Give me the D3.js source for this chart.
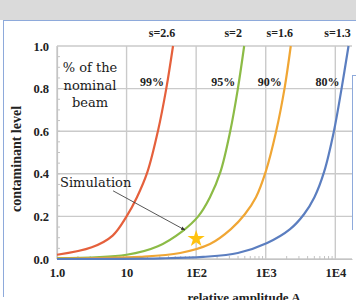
<!DOCTYPE html>
<html>
<head>
<meta charset="utf-8">
<script src="https://cdn.jsdelivr.net/npm/d3@7"></script>
<style>
	body { margin: 0; background: #fff; }
	svg { display: block; }
</style>
</head>
<body>
<div id="chart"><svg width="356" height="300"></svg></div>
<script>
// tick values and labels
var xTicks = [1, 10, 100, 1000, 10000];
var xTickLabels = ['1.0', '10', '1E2', '1E3', '1E4'];
var yTicks = [0, 0.2, 0.4, 0.6, 0.8, 1.0];
var yTickLabels = ['0.0', '0.2', '0.4', '0.6', '0.8', '1.0'];

// curves (A = relative amplitude, level = contaminant level)
var seriesNames = ['s=2.6', 's=2', 's=1.6', 's=1.3'];
var percentLabels = ['99%', '95%', '90%', '80%'];
var redA = [1, 3.16, 6.31, 10, 14.1, 20, 28.2, 37.2, 46.5];
var redLevel = [0.02, 0.055, 0.11, 0.2, 0.29, 0.41, 0.6, 0.8, 1.0];
var greenA = [1, 10, 28.2, 63.1, 107, 158, 224, 309, 398, 490];
var greenLevel = [0.004, 0.02, 0.06, 0.13, 0.2, 0.29, 0.41, 0.6, 0.8, 1.0];
var orangeA = [1, 15.8, 58.9, 158, 316, 501, 724, 1000, 1413, 1862, 2291];
var orangeLevel = [0.002, 0.01, 0.028, 0.07, 0.14, 0.21, 0.29, 0.41, 0.6, 0.8, 1.0];
var blueA = [1, 31.6, 126, 398, 1047, 2239, 3548, 5012, 6918, 9550, 12300, 15490];
var blueLevel = [0, 0.003, 0.01, 0.028, 0.075, 0.14, 0.21, 0.29, 0.41, 0.6, 0.8, 1.0];
var simStar = [100, 0.1];
var simArrow = [[6.4, 0.32], [69, 0.136]];

var colors = ['#e5603c', '#8cbb46', '#f0a634', '#5b7ec0'];

var svg = d3.select('#chart > svg');

// page frame around the chart
svg.append('rect').attr('x', 0).attr('y', 0).attr('width', 356).attr('height', 20).attr('fill', '#dadada');
svg.append('line').attr('x1', 3).attr('x2', 356).attr('y1', 20.5).attr('y2', 20.5)
	.attr('stroke', '#8eaadb').attr('stroke-width', 1);
svg.append('line').attr('x1', 3.5).attr('x2', 3.5).attr('y1', 20).attr('y2', 297)
	.attr('stroke', '#8eaadb').attr('stroke-width', 1);
svg.append('line').attr('x1', 352.5).attr('x2', 352.5).attr('y1', 75).attr('y2', 230)
	.attr('stroke', '#8eaadb').attr('stroke-width', 1);
svg.append('line').attr('x1', 352).attr('x2', 356).attr('y1', 75.5).attr('y2', 75.5)
	.attr('stroke', '#8eaadb').attr('stroke-width', 1);

var xScale = d3.scaleLog()
	.domain([1, Math.pow(10, 4.24)])
	.range([57, 352]);
var yScale = d3.scaleLinear()
	.domain([0, 1])
	.range([259, 46]);

// grids
var grids = svg.append('g').attr('class', 'grids');
grids.selectAll('.y.grid')
	.data(yTicks)
	.enter().append('line')
	.attr('class', 'y grid')
	.attr('x1', xScale(1))
	.attr('x2', 352)
	.attr('y1', function(d) { return yScale(d) })
	.attr('y2', function(d) { return yScale(d) })
	.attr('stroke', '#cacaca')
	.attr('stroke-width', 1.4);
grids.selectAll('.x.grid')
	.data(xTicks)
	.enter().append('line')
	.attr('class', 'x grid')
	.attr('x1', function(d) { return xScale(d) })
	.attr('x2', function(d) { return xScale(d) })
	.attr('y1', yScale(1))
	.attr('y2', yScale(0))
	.attr('stroke', '#cacaca')
	.attr('stroke-width', 1.4);

// minor ticks
var yMinor = d3.range(0.05, 1, 0.05);
grids.selectAll('.y.minor')
	.data(yMinor)
	.enter().append('line')
	.attr('x1', xScale(1))
	.attr('x2', xScale(1) + 3)
	.attr('y1', function(d) { return yScale(d) })
	.attr('y2', function(d) { return yScale(d) })
	.attr('stroke', '#c4c4c4');
var xMinor = [];
xTicks.forEach(function(t) {
	for (var k = 2; k < 10; k++) if (t * k < xScale.domain()[1]) xMinor.push(t * k);
});
grids.selectAll('.x.minor')
	.data(xMinor)
	.enter().append('line')
	.attr('x1', function(d) { return xScale(d) })
	.attr('x2', function(d) { return xScale(d) })
	.attr('y1', yScale(0))
	.attr('y2', yScale(0) - 3)
	.attr('stroke', '#c4c4c4');

// axes
var yAxis = svg.append('g')
	.attr('transform', 'translate(' + xScale(1) + ',0)')
	.call(d3.axisLeft(yScale).tickValues(yTicks).tickSize(0).tickPadding(8)
		.tickFormat(function(d, i) { return yTickLabels[i] }));
var xAxis = svg.append('g')
	.attr('transform', 'translate(0,' + yScale(0) + ')')
	.call(d3.axisBottom(xScale).tickValues(xTicks).tickSize(0).tickPadding(9)
		.tickFormat(function(d, i) { return xTickLabels[i] }));
[xAxis, yAxis].forEach(function(ax) {
	ax.select('.domain').attr('stroke', '#c4c4c4').attr('stroke-width', 1.2);
	ax.selectAll('text')
		.attr('fill', '#222')
		.style('font-family', '"Liberation Serif", serif')
		.style('font-weight', 'bold')
		.style('font-size', '12.5px');
});

// curves
var series = [
	{ a: redA, v: redLevel },
	{ a: greenA, v: greenLevel },
	{ a: orangeA, v: orangeLevel },
	{ a: blueA, v: blueLevel }
];
var line = d3.line()
	.x(function(d) { return xScale(d[0]) })
	.y(function(d) { return yScale(d[1]) })
	.curve(d3.curveCatmullRom.alpha(0.5));
var plot = svg.append('g').attr('class', 'plot');
plot.selectAll('path')
	.data(series)
	.enter().append('path')
	.attr('d', function(d) { return line(d3.zip(d.a, d.v)) })
	.attr('fill', 'none')
	.attr('stroke', function(d, i) { return colors[i] })
	.attr('stroke-width', 2.2);

// curve labels
var labelFont = '"Liberation Serif", serif';
plot.selectAll('.slabel')
	.data(series)
	.enter().append('text')
	.attr('x', function(d) { return xScale(d.a[d.a.length - 1]) - 11 })
	.attr('y', 37)
	.attr('text-anchor', 'middle')
	.style('font-family', labelFont)
	.style('font-weight', 'bold')
	.style('font-size', '12px')
	.attr('fill', '#222')
	.text(function(d, i) { return seriesNames[i] });
plot.selectAll('.plabel')
	.data(series)
	.enter().append('text')
	.attr('x', function(d) { return xScale(d.a[d.a.length - 1]) - 21 })
	.attr('y', 86)
	.attr('text-anchor', 'middle')
	.style('font-family', labelFont)
	.style('font-weight', 'bold')
	.style('font-size', '12px')
	.attr('fill', '#222')
	.text(function(d, i) { return percentLabels[i] });

// "% of the nominal beam"
var note = svg.append('text')
	.attr('text-anchor', 'middle')
	.style('font-family', '"DejaVu Serif", serif')
	.style('font-size', '13px')
	.attr('fill', '#1a1a1a');
['% of the', 'nominal', 'beam'].forEach(function(t, i) {
	note.append('tspan').attr('x', 90).attr('y', 72 + i * 17.5).text(t);
});

// simulation marker
svg.append('defs').append('marker')
	.attr('id', 'arrow')
	.attr('viewBox', '0 0 10 10')
	.attr('refX', 9).attr('refY', 5)
	.attr('markerWidth', 5).attr('markerHeight', 5)
	.attr('orient', 'auto')
	.append('path').attr('d', 'M0,1L10,5L0,9z').attr('fill', '#333');
svg.append('line')
	.attr('x1', xScale(simArrow[0][0]))
	.attr('y1', yScale(simArrow[0][1]))
	.attr('x2', xScale(simArrow[1][0]))
	.attr('y2', yScale(simArrow[1][1]))
	.attr('stroke', '#444')
	.attr('stroke-width', 0.9)
	.attr('marker-end', 'url(#arrow)');
svg.append('text')
	.attr('x', xScale(1) + 3)
	.attr('y', 187)
	.style('font-family', '"DejaVu Serif", serif')
	.style('font-size', '13px')
	.attr('fill', '#1a1a1a')
	.text('Simulation');
svg.append('path')
	.attr('d', d3.symbol(d3.symbolStar, 92)())
	.attr('transform', 'translate(' + xScale(simStar[0]) + ',' + (yScale(simStar[1]) + 1) + ')')
	.attr('fill', '#ffc20e');

// axis titles
svg.append('text')
	.attr('transform', 'translate(21,159) rotate(-90)')
	.attr('text-anchor', 'middle')
	.style('font-family', '"Liberation Serif", serif')
	.style('font-weight', 'bold')
	.style('font-size', '14px')
	.attr('fill', '#222')
	.text('contaminant level');
svg.append('text')
	.attr('x', 244)
	.attr('y', 302)
	.attr('text-anchor', 'middle')
	.style('font-family', '"Liberation Serif", serif')
	.style('font-weight', 'bold')
	.style('font-size', '13px')
	.attr('fill', '#222')
	.text('relative amplitude A');
</script>
</body>
</html>
